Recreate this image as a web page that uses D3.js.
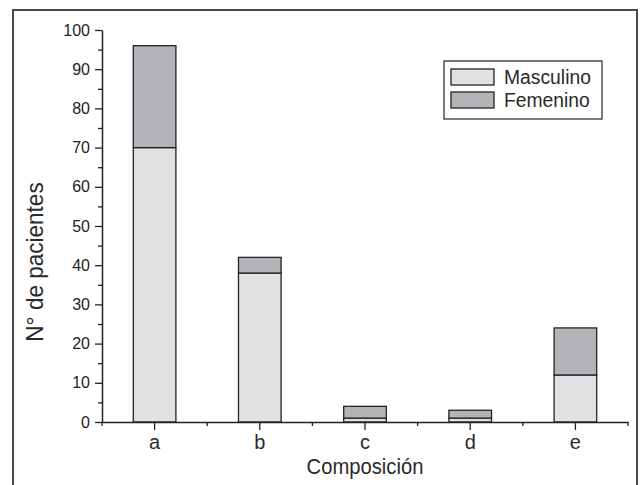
<!DOCTYPE html>
<meta charset="utf-8">
<head>
  <style>
    body { margin: 0; background: #fff; }
    .tick text { font-family: "Liberation Sans", Arial, sans-serif; }
  </style>
</head>
<body>
<div id="my_dataviz"></div>
<script src="https://d3js.org/d3.v7.min.js"></script>
<script>

// data
var categories = ["a", "b", "c", "d", "e"];
var masculino = [70, 38, 1, 1, 12];
var femenino = [26, 4, 3, 2, 12];
var seriesNames = ["Masculino", "Femenino"];
var seriesColors = ["#e0e1e3", "#b3b4b8"];
var yTicks = [0, 10, 20, 30, 40, 50, 60, 70, 80, 90, 100];

var W = 641, H = 485;
var margin = {top: 30, right: 13, bottom: 63, left: 102};
var width = 628 - margin.left, height = 422 - margin.top;
var font = "'Liberation Sans', Arial, sans-serif";

var root = d3.select("#my_dataviz")
  .append("svg")
    .attr("width", W)
    .attr("height", H);

// outer frame (bottom edge is cut off in the original)
root.append("path")
  .attr("d", "M13,490 V10 H637 V490")
  .attr("fill", "none")
  .attr("stroke", "#4a4a4a")
  .attr("stroke-width", 2);

var svg = root.append("g")
  .attr("transform", "translate(" + margin.left + "," + margin.top + ")");

var x = d3.scaleBand()
  .domain(categories)
  .range([0, width])
  .padding(0);

var y = d3.scaleLinear()
  .domain([0, 100])
  .range([height, 0]);

var barW = x.bandwidth() * 0.405;

// condensed-looking text: squeeze horizontally
function label(parent, tx, ty, rot, sx, size, anchor, str) {
  return parent.append("text")
    .attr("transform", "translate(" + tx + "," + ty + ") rotate(" + rot + ") scale(" + sx + ",1)")
    .attr("text-anchor", anchor)
    .style("font-family", font)
    .style("font-size", size + "px")
    .attr("fill", "#2a2a2a")
    .text(str);
}

// stacked data
var rows = categories.map(function(c, i) {
  return {cat: c, Masculino: masculino[i], Femenino: femenino[i]};
});
var stack = d3.stack().keys(seriesNames)(rows);

svg.selectAll("g.layer")
  .data(stack)
  .enter()
  .append("g")
    .attr("class", "layer")
    .attr("fill", function(d, i) { return seriesColors[i]; })
  .selectAll("rect")
  .data(function(d) { return d; })
  .enter()
  .append("rect")
    .attr("x", function(d) { return x(d.data.cat) + x.bandwidth() / 2 - barW / 2; })
    .attr("y", function(d) { return y(d[1]); })
    .attr("width", barW)
    .attr("height", function(d) { return y(d[0]) - y(d[1]); })
    .attr("stroke", "#222")
    .attr("stroke-width", 1.3);

// Y axis with minor ticks
svg.append("g")
  .call(d3.axisLeft(y).tickValues(d3.range(5, 100, 10)).tickSize(4).tickFormat(""))
  .call(function(g) { g.select(".domain").remove(); })
  .selectAll("line").attr("stroke", "#222").attr("stroke-width", 1.3);

var yAxis = svg.append("g")
  .call(d3.axisLeft(y).tickValues(yTicks).tickSize(7).tickPadding(5).tickSizeOuter(0));
yAxis.select(".domain").attr("stroke", "#222").attr("stroke-width", 1.5);
yAxis.selectAll("line").attr("stroke", "#222").attr("stroke-width", 1.3);
yAxis.selectAll("text").style("font-size", "16px").attr("fill", "#222");

// X axis: long ticks at categories, short ticks at boundaries
var bounds = categories.map(function(c) { return x(c); }).concat([width]);
svg.append("g")
  .attr("transform", "translate(0," + height + ")")
  .selectAll("line")
  .data(bounds)
  .enter()
  .append("line")
    .attr("x1", function(d) { return d; })
    .attr("x2", function(d) { return d; })
    .attr("y1", 0)
    .attr("y2", 4)
    .attr("stroke", "#222")
    .attr("stroke-width", 1.3);

var xAxis = svg.append("g")
  .attr("transform", "translate(0," + height + ")")
  .call(d3.axisBottom(x).tickSize(8).tickPadding(5).tickSizeOuter(0));
xAxis.select(".domain").attr("stroke", "#222").attr("stroke-width", 1.5);
xAxis.selectAll("line").attr("stroke", "#222").attr("stroke-width", 1.3);
xAxis.selectAll("text")
  .style("font-size", "20px")
  .attr("fill", "#2a2a2a");

// axis titles
label(svg, width / 2, height + 52, 0, 0.92, 22, "middle", "Composición");
label(svg, -59, y(50) + 36, -90, 0.98, 23, "middle", "N° de pacientes");

// legend
var legend = root.append("g").attr("transform", "translate(444,61)");
legend.append("rect")
  .attr("width", 158)
  .attr("height", 58)
  .attr("fill", "#fff")
  .attr("stroke", "#333")
  .attr("stroke-width", 1.3);

seriesNames.forEach(function(name, i) {
  legend.append("rect")
    .attr("x", 7)
    .attr("y", 8 + i * 23)
    .attr("width", 43)
    .attr("height", 16)
    .attr("fill", seriesColors[i])
    .attr("stroke", "#222")
    .attr("stroke-width", 1.3);
  label(legend, 60, 23 + i * 23, 0, 0.92, 21, "start", name);
});

</script>
</body>
